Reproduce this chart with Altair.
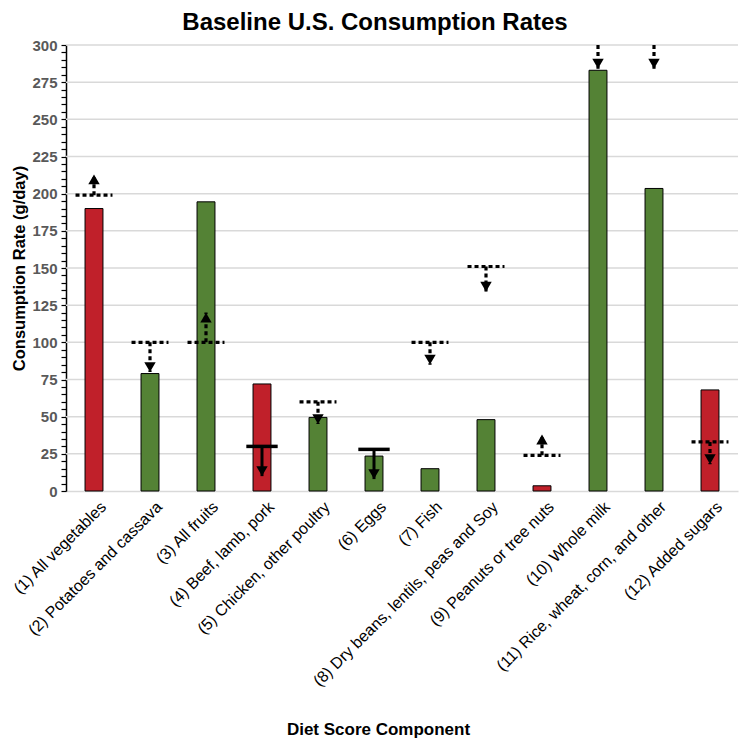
import altair as alt
import pandas as pd

categories = [
    "(1) All vegetables", "(2) Potatoes and cassava", "(3) All fruits",
    "(4) Beef, lamb, pork", "(5) Chicken, other poultry", "(6) Eggs",
    "(7) Fish", "(8) Dry beans, lentils, peas and Soy",
    "(9) Peanuts or tree nuts", "(10) Whole milk",
    "(11) Rice, wheat, corn, and other", "(12) Added sugars",
]
index = list(range(1, 13))
values = [190, 79, 194.5, 72, 49.5, 23.5, 15, 48, 3.5, 283, 203.5, 68]
bar_group = ["red", "green", "green", "red", "green", "green",
             "green", "green", "red", "green", "green", "red"]
targets = [199, 100, 100, 30, 60, 28, 100, 151, 24, None, None, 33]
target_style = ["dotted", "dotted", "dotted", "solid", "dotted", "solid",
                "dotted", "dotted", "dotted", "none", "none", "dotted"]
arrow_from = [199, 100, 100, 30, 60, 28, 100, 151, 24, 300, 300, 33]
arrow_to = [213, 80, 120, 10, 45, 8, 85, 134, 38, 284, 284, 18]
gridlines = [25, 50, 75, 100, 125, 150, 175, 200, 225, 250, 275, 300]

df = pd.DataFrame({
    "idx": index, "cat": categories, "value": values, "grp": bar_group,
    "target": targets, "style": target_style,
    "afrom": arrow_from, "ato": arrow_to,
})
df["dir"] = ["up" if t > f else "down" for f, t in zip(df["afrom"], df["ato"])]
df["arrow_line"] = ["solid" if s == "solid" else "dotted" for s in df["style"]]

label_arr = "[" + ",".join("'" + c + "'" for c in categories) + "]"

W, H = 672, 446
xscale = alt.Scale(domain=[0.5, 12.5], nice=False, zero=False)
yscale = alt.Scale(domain=[0, 300], nice=False)

x_axis = alt.Axis(
    values=index, labelExpr=label_arr + "[datum.value - 1]",
    labelAngle=-45, labelFontSize=16, labelColor="black",
    labelFont="Liberation Sans", labelAlign="right",
    labelBaseline="middle", labelPadding=13, labelOffset=9, labelOverlap=False,
    labelBound=False, labelFlush=False, labelLimit=600,
    ticks=False, grid=False, domainColor="#d9d9d9", domainWidth=1.5,
    title="Diet Score Component", titleFontSize=17,
    titleFont="Liberation Sans", titleFontWeight="bold",
    titleX=312, titleAlign="center",
    titleY=238, titleBaseline="middle",
)
y_axis = alt.Axis(
    values=list(range(0, 301, 5)),
    labelExpr="datum.value % 25 == 0 ? datum.label : ''",
    labelFontSize=15, labelFontWeight="bold", labelColor="#595959",
    labelFont="Liberation Sans", labelPadding=4, labelOverlap=False,
    labelFlush=False, labelBound=False,
    tickColor="black", tickSize=5, tickWidth=1.2,
    domainColor="black", domainWidth=1.5, grid=False,
    title="Consumption Rate (g/day)", titleFontSize=16.5,
    titleFont="Liberation Sans", titleFontWeight="bold",
    titleX=-47, titleY=H / 2, titleAngle=-90,
    titleBaseline="middle", titleAlign="center",
)


def X(field):
    return alt.X(field, scale=xscale, axis=x_axis)


def Y(field):
    return alt.Y(field, scale=yscale, axis=y_axis)


base = alt.Chart(df)

grid = alt.Chart(pd.DataFrame({"g": gridlines})).mark_rule(
    color="#d9d9d9", strokeWidth=1.5
).encode(y=Y("g:Q"))

bars = base.transform_calculate(
    x0="datum.idx - 0.16", x1="datum.idx + 0.16", zero="0"
).mark_bar(stroke="black", strokeWidth=1).encode(
    x=X("x0:Q"), x2="x1:Q", y=Y("value:Q"), y2="zero:Q",
    color=alt.Color("grp:N", scale=alt.Scale(
        domain=["red", "green"], range=["#c0202a", "#548235"]), legend=None),
)

dotted_h = base.transform_filter("datum.style == 'dotted'").transform_calculate(
    x0="datum.idx - 0.33", x1="datum.idx + 0.33"
).mark_rule(color="black", strokeWidth=3.2, strokeDash=[4, 3]).encode(
    x=X("x0:Q"), x2="x1:Q", y=Y("target:Q"))

solid_h = base.transform_filter("datum.style == 'solid'").transform_calculate(
    x0="datum.idx - 0.28", x1="datum.idx + 0.28"
).mark_rule(color="black", strokeWidth=3.5).encode(
    x=X("x0:Q"), x2="x1:Q", y=Y("target:Q"))

arrow_dotted = base.transform_filter("datum.arrow_line == 'dotted'").mark_rule(
    color="black", strokeWidth=3.2, strokeDash=[4, 3]
).encode(x=X("idx:Q"), y=Y("afrom:Q"), y2="ato:Q")

arrow_solid = base.transform_filter("datum.arrow_line == 'solid'").mark_rule(
    color="black", strokeWidth=3
).encode(x=X("idx:Q"), y=Y("afrom:Q"), y2="ato:Q")

head_down = base.transform_filter("datum.dir == 'down'").mark_point(
    shape="triangle-down", filled=True, color="black", size=130, opacity=1, yOffset=-5
).encode(x=X("idx:Q"), y=Y("ato:Q"))

head_up = base.transform_filter("datum.dir == 'up'").mark_point(
    shape="triangle-up", filled=True, color="black", size=130, opacity=1, yOffset=5
).encode(x=X("idx:Q"), y=Y("ato:Q"))

chart = alt.layer(
    grid, bars, dotted_h, solid_h, arrow_dotted, arrow_solid, head_down, head_up
).properties(
    width=W, height=H,
    autosize=alt.AutoSizeParams(type="none"),
    padding={"left": 58, "top": 37, "right": 4, "bottom": 250},
    title=alt.TitleParams(
        "Baseline U.S. Consumption Rates", fontSize=24, fontWeight="bold",
        font="Liberation Sans", anchor="middle", dx=-27, offset=3, color="black",
    ),
).configure_view(stroke=None)

chart.save("out.html", embed_options={"renderer": "svg", "actions": False})
